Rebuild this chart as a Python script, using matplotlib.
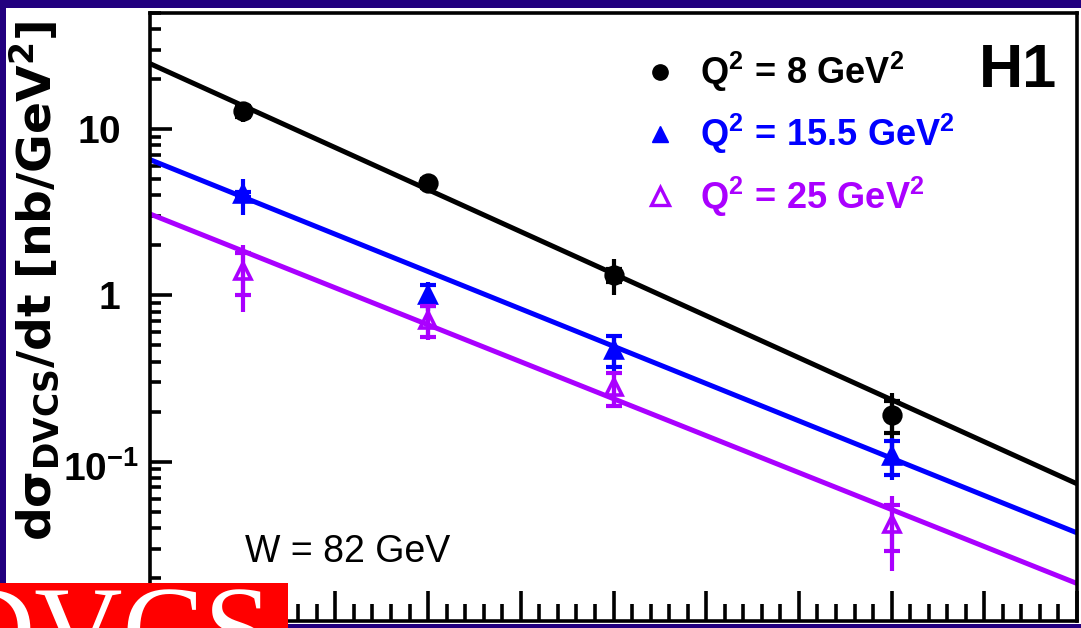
import matplotlib
matplotlib.use("Agg")
import matplotlib.pyplot as plt
from matplotlib.lines import Line2D
from matplotlib.patches import Rectangle
from matplotlib.ticker import MultipleLocator, LogLocator, NullFormatter
from matplotlib.font_manager import FontProperties, fontManager
from matplotlib.transforms import ScaledTranslation

# ---------------------------------------------------------------- fonts
_installed = {f.name for f in fontManager.ttflist}
NARROW = "Liberation Sans Narrow" if "Liberation Sans Narrow" in _installed else "Liberation Sans"
plt.rcParams["mathtext.fontset"] = "custom"
plt.rcParams["mathtext.rm"] = NARROW
plt.rcParams["mathtext.bf"] = NARROW + ":bold"
plt.rcParams["mathtext.it"] = NARROW + ":italic"

# ---------------------------------------------------------------- data
t_bins = [0.1, 0.3, 0.5, 0.8]                     # |t| [GeV^2]

q8_val = [12.8, 4.72, 1.33, 0.19]
q8_stat = [0.9, 0.30, 0.12, 0.042]
q8_tot = [1.8, 0.40, 0.33, 0.070]

q155_val = [4.05, 1.01, 0.47, 0.108]
q155_stat = [0.15, 0.15, 0.10, 0.025]
q155_tot = [1.00, 0.20, 0.12, 0.030]

q25_val = [1.40, 0.71, 0.28, 0.042]
q25_stat = [0.39, 0.15, 0.063, 0.013]
q25_tot = [0.60, 0.17, 0.070, 0.020]

# exponential fits exp(-b|t|): values at |t| = 0 and |t| = 1
fit_t = [0.0, 1.0]
q8_fit = [24.8, 0.0736]
q155_fit = [6.56, 0.0373]
q25_fit = [3.09, 0.0185]

legend_labels = [r"$\mathbf{Q^2\,=\,8\ GeV^2}$",
                 r"$\mathbf{Q^2\,=\,15.5\ GeV^2}$",
                 r"$\mathbf{Q^2\,=\,25\ GeV^2}$"]
y_tick_values = [0.1, 1, 10]
y_tick_labels = [r"$\mathbf{10^{-1}}$", r"$\mathbf{1}$", r"$\mathbf{10}$"]

# ---------------------------------------------------------------- style
NAVY = "#22007f"
BLACK = "#000000"
BLUE = "#0000ff"
VIOLET = "#aa00ff"

W, H = 1081, 628
fig = plt.figure(figsize=(W / 100, H / 100), dpi=100)
fig.patch.set_facecolor(NAVY)

# white slide panel inside the navy frame
fig.add_artist(Rectangle((6 / W, 4 / H), (W - 6) / W, 616 / H,
                         transform=fig.transFigure, facecolor="white",
                         edgecolor="none", zorder=-5))

ax = fig.add_axes([150 / W, 7 / H, 927 / W, 608 / H])
ax.set_yscale("log")
ax.set_xlim(0.0, 1.0)
ax.set_ylim(0.011, 50)

series = [
    (q8_val, q8_stat, q8_tot, q8_fit, BLACK, "o", BLACK),
    (q155_val, q155_stat, q155_tot, q155_fit, BLUE, "^", BLUE),
    (q25_val, q25_stat, q25_tot, q25_fit, VIOLET, "^", "none"),
]

for k, (val, stat, tot, fit, col, mk, face) in enumerate(series):
    z = 3 + k
    ax.plot(fit_t, fit, color=col, lw=3.6, solid_capstyle="butt", zorder=2)
    ax.errorbar(t_bins, val, yerr=tot, fmt="none", ecolor=col,
                elinewidth=3.0, capsize=0, zorder=z)
    ax.errorbar(t_bins, val, yerr=stat, fmt="none", ecolor=col,
                elinewidth=3.0, capsize=5.5, capthick=3.0, zorder=z)
    ax.plot(t_bins, val, ls="none", marker=mk, ms=12, mfc=face, mec=col,
            mew=2.6, zorder=z + 0.5)

# axes frame and ticks
for sp in ax.spines.values():
    sp.set_linewidth(2.6)
ax.xaxis.set_major_locator(MultipleLocator(0.1))
ax.xaxis.set_minor_locator(MultipleLocator(0.02))
ax.tick_params(axis="x", which="both", direction="in", bottom=True, top=False,
               labelbottom=False, width=2.6)
ax.tick_params(axis="x", which="major", length=21.5)
ax.tick_params(axis="x", which="minor", length=12)

ax.set_yticks(y_tick_values, labels=y_tick_labels)
ax.yaxis.set_minor_locator(LogLocator(base=10, subs=range(2, 10), numticks=20))
ax.yaxis.set_minor_formatter(NullFormatter())
ax.tick_params(axis="y", which="both", direction="in", left=True, right=False,
               width=2.6, labelsize=28, pad=21)
ax.tick_params(axis="y", which="major", length=16)
ax.tick_params(axis="y", which="minor", length=8)
for lab in ax.get_yticklabels():
    lab.set_family(NARROW)
# the exponent label sits a little further right
ax.get_yticklabels()[0].set_transform(
    ax.get_yticklabels()[0].get_transform()
    + ScaledTranslation(18 / 100, -4 / 100, fig.dpi_scale_trans))

# legend
handles = [
    Line2D([], [], ls="none", marker="o", ms=11, mfc=BLACK, mec=BLACK),
    Line2D([], [], ls="none", marker="^", ms=11, mfc=BLUE, mec=BLUE),
    Line2D([], [], ls="none", marker="^", ms=13, mfc="none", mec=VIOLET, mew=2.4),
]
ax.legend(handles, legend_labels, loc="upper left",
          bbox_to_anchor=(642 / W, 1 - 50 / H), bbox_transform=fig.transFigure,
          frameon=False, handlelength=1.0, handletextpad=0.6, borderpad=0,
          borderaxespad=0, labelspacing=0.5,
          labelcolor=[BLACK, BLUE, VIOLET],
          prop=FontProperties(family=NARROW, weight="bold", size=26))

# annotations
fig.text(1057 / W, 1 - 87 / H, "H1", ha="right", va="baseline",
         family=NARROW, weight="bold", size=44)
fig.text(245 / W, 1 - 562 / H, "W = 82 GeV", ha="left", va="baseline",
         family=NARROW, size=27)

# y axis title
fig.text(34 / W, 1 - 281 / H, r"$\mathbf{d\sigma_{DVCS}/dt\ [nb/GeV^2]}$",
         rotation=90, ha="center", va="center", size=34,
         math_fontfamily="dejavusans")

# red "DVCS" tag in the lower left corner
fig.add_artist(Rectangle((0, 0), 288 / W, 45 / H, transform=fig.transFigure,
                         facecolor="#ff0000", edgecolor="none", zorder=10))
fig.text(272 / W, 1 - 671 / H, "DVCS", ha="right", va="baseline",
         family="Liberation Serif", size=88, color="white", zorder=11)

fig.savefig("out.png", dpi=100, facecolor=fig.get_facecolor())
